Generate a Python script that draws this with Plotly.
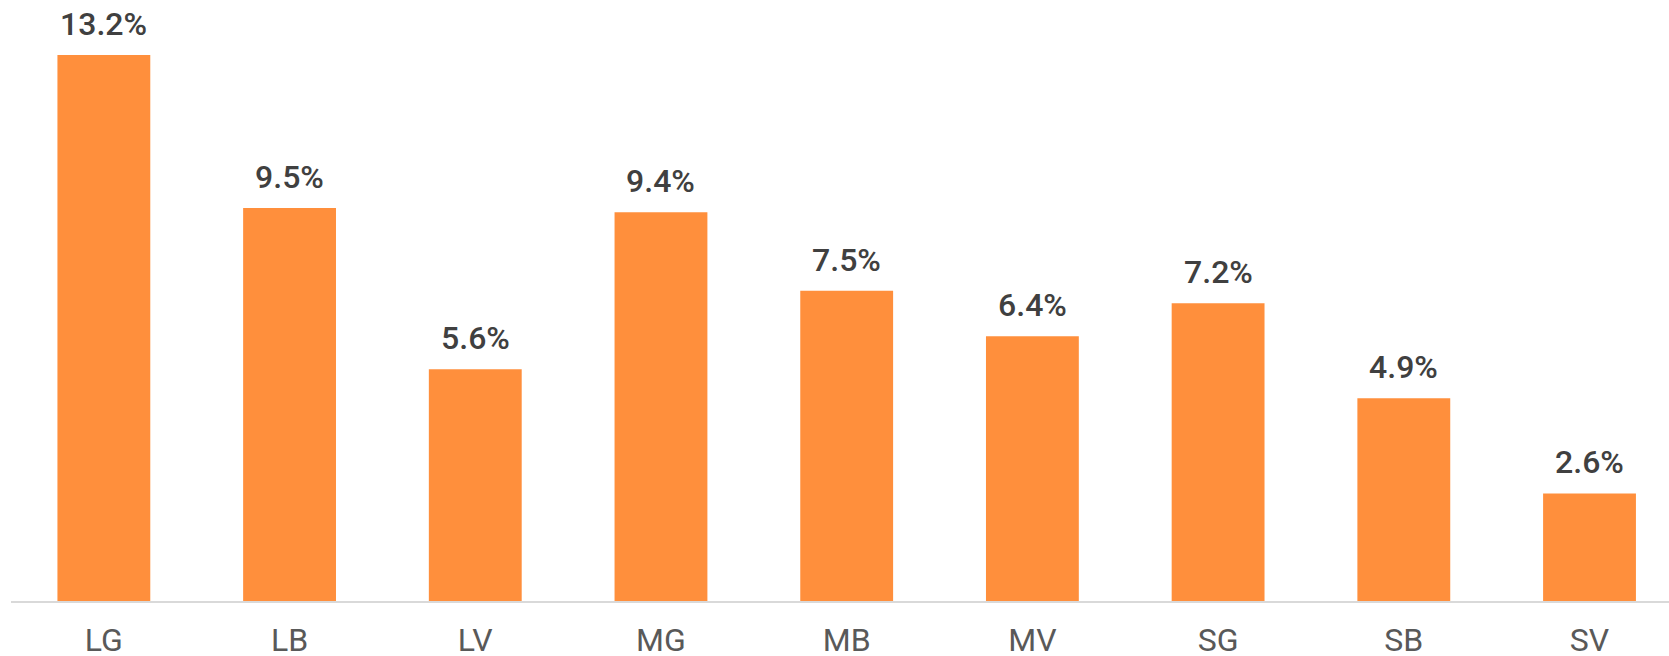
import plotly.graph_objects as go

categories = ["LG", "LB", "LV", "MG", "MB", "MV", "SG", "SB", "SV"]
values = [13.2, 9.5, 5.6, 9.4, 7.5, 6.4, 7.2, 4.9, 2.6]
labels = [f"{v:.1f}%" for v in values]

BAR_COLOR = "#FF8F3C"
FONT = "Roboto"

fig = go.Figure(
    go.Bar(
        x=categories,
        y=values,
        marker=dict(color=BAR_COLOR, line=dict(width=0)),
        width=0.5,
        hoverinfo="skip",
    )
)

for c, v, t in zip(categories, values, labels):
    fig.add_annotation(
        x=c, y=v, text=t, showarrow=False, yanchor="bottom", yshift=10,
        font=dict(family="Roboto Medium, Roboto", size=32, color="#404040"),
    )

fig.update_layout(
    width=1669, height=656,
    margin=dict(l=11, r=0, t=0, b=55, autoexpand=False),
    paper_bgcolor="white", plot_bgcolor="white",
    showlegend=False,
    font=dict(family=FONT),
)
fig.update_xaxes(
    range=[-0.5, 8.428],
    automargin=False,
    showline=True, linecolor="#d9d9d9", linewidth=2,
    showgrid=False, ticks="",
    ticklabelstandoff=10,
    tickfont=dict(family=FONT, size=32, color="#595959"),
)
fig.update_yaxes(
    range=[0, 14.53], visible=False, showgrid=False, zeroline=False,
    automargin=False,
)

fig.write_html(
    "out.html",
    config={"displayModeBar": False},
    post_script="document.body.style.margin='0px';",
)
